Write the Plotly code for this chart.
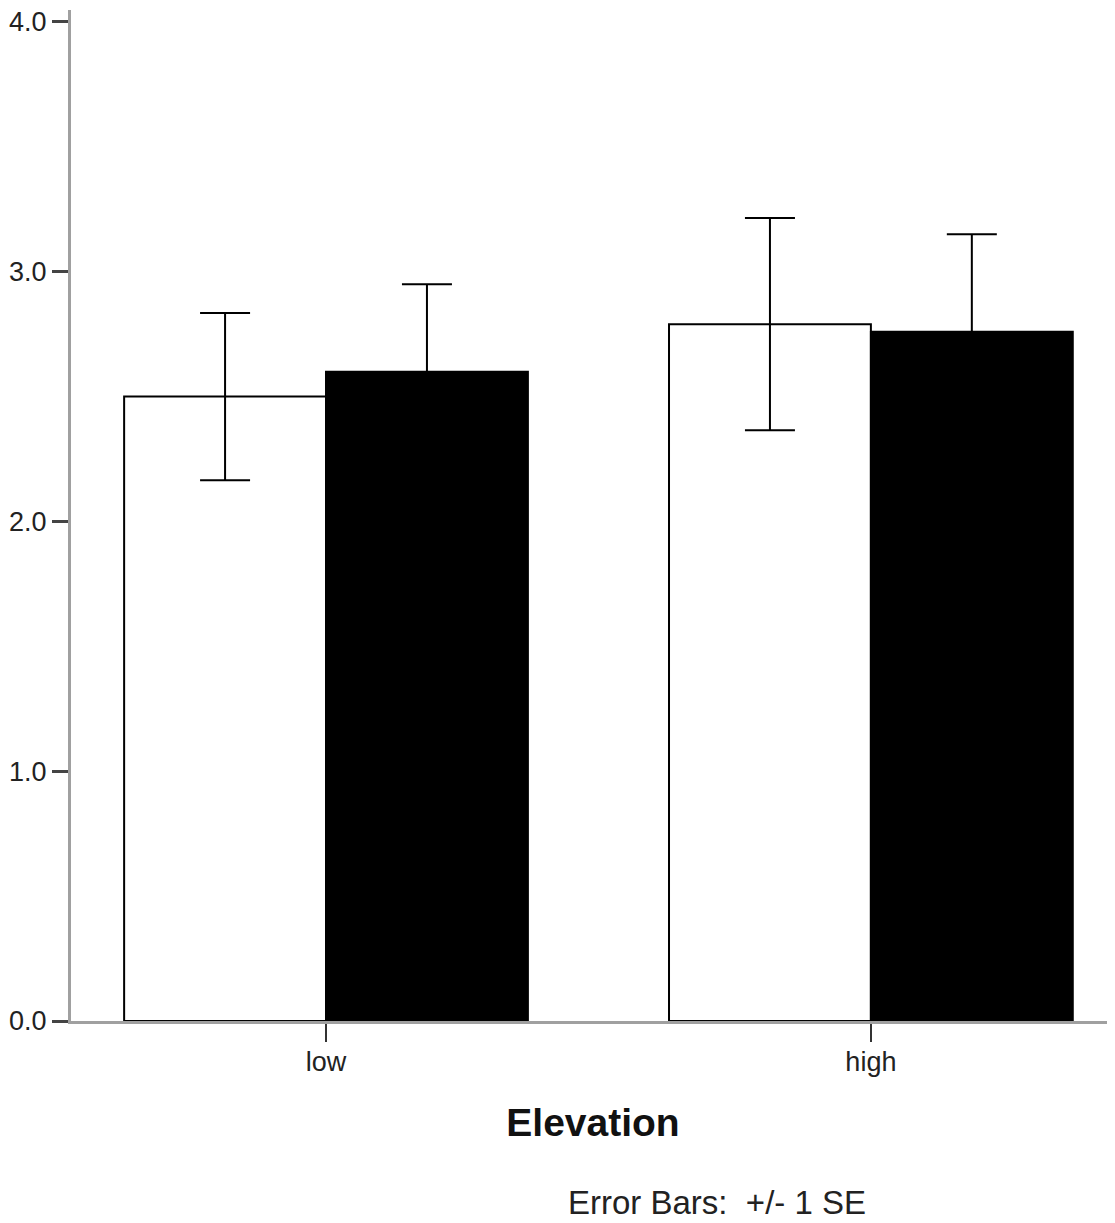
import plotly.graph_objects as go

categories = ["low", "high"]
group_a_means = [2.50, 2.79]
group_a_se = [0.335, 0.425]
group_b_means = [2.60, 2.76]
group_b_se = [0.35, 0.39]
y_tickvals = [0.0, 1.0, 2.0, 3.0, 4.0]
y_ticktext = ["0.0", "1.0", "2.0", "3.0", "4.0"]

FONT = "Liberation Sans, Arial, sans-serif"

fig = go.Figure()
fig.add_trace(go.Bar(
    x=categories, y=group_a_means, name="A",
    marker=dict(color="white", line=dict(color="black", width=2)),
    error_y=dict(type="data", array=group_a_se, visible=True,
                 color="black", thickness=2, width=25),
))
fig.add_trace(go.Bar(
    x=categories, y=group_b_means, name="B",
    marker=dict(color="black", line=dict(color="black", width=2)),
    error_y=dict(type="data", array=group_b_se, visible=True,
                 color="black", thickness=2, width=25),
))

# page body has an 8px default margin, so the figure is sized to fit inside the window
fig.update_layout(
    width=1107, height=1215,
    margin=dict(l=63, r=0, t=2, b=202),
    paper_bgcolor="white", plot_bgcolor="white",
    barmode="group", bargap=0.259, bargroupgap=0,
    showlegend=False,
    font=dict(family=FONT, color="#222", size=27),
    annotations=[dict(
        text="Error Bars:  +/- 1 SE", xref="paper", yref="paper",
        x=0.619, y=-0.18, xanchor="center", yanchor="middle",
        showarrow=False, font=dict(family=FONT, size=33, color="#222"),
    )],
)
fig.update_xaxes(
    range=[-0.468, 1.448],
    showline=True, linecolor="#a0a0a0", linewidth=3,
    ticks="outside", ticklen=18, tickwidth=2, tickcolor="#333",
    ticklabelstandoff=-3,
    tickfont=dict(family=FONT, size=27, color="#222"),
    showgrid=False, zeroline=False, layer="below traces",
    title=dict(text="<b>Elevation</b>", standoff=33,
               font=dict(family=FONT, size=39, color="#111")),
)
fig.update_yaxes(
    range=[0, 4.048],
    tickvals=y_tickvals, ticktext=y_ticktext,
    showline=True, linecolor="#a0a0a0", linewidth=3,
    ticks="outside", ticklen=16, tickwidth=3, tickcolor="#444",
    ticklabeloverflow="allow",
    tickfont=dict(family=FONT, size=27, color="#222"),
    showgrid=False, zeroline=False, layer="below traces",
)

fig.write_html("out.html")
